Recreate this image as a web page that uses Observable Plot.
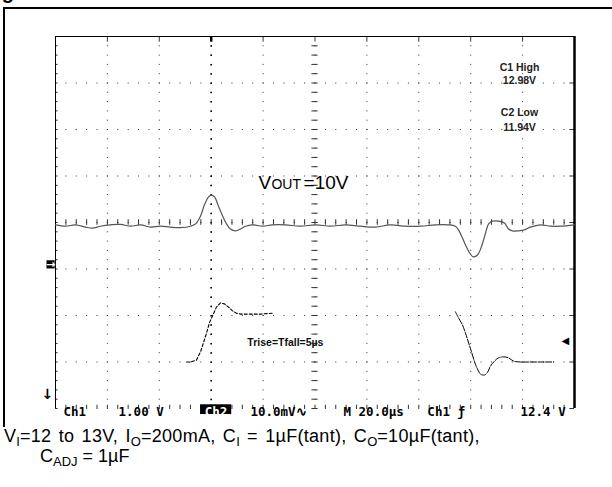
<!DOCTYPE html>
<html>
<head>
<meta charset="utf-8">
<script src="https://cdn.jsdelivr.net/npm/d3@7"></script>
<script src="https://cdn.jsdelivr.net/npm/@observablehq/plot@0.6"></script>
<style>
  body { margin: 0; background: #fff; }
  #wrap { position: relative; width: 612px; height: 487px; overflow: hidden; font-family: "Liberation Sans", Arial, sans-serif; }
  #fig { position: absolute; left: -16px; top: -18px; font-size: 20px; font-weight: bold; line-height: 20px; }
  #frame { position: absolute; left: 3px; top: 7px; width: 700px; height: 418px; border-top: 2.5px solid #000; border-left: 2.5px solid #000; }
  #chart { position: absolute; left: 0; top: 0; }
  #caption { position: absolute; left: 4px; top: 426px; font-size: 18px; line-height: 20px; color: #000; white-space: nowrap; letter-spacing: 0.3px; word-spacing: 2px; }
  #caption sub { font-size: 13px; vertical-align: -4px; line-height: 0; letter-spacing: 0; }
  #caption .l2 { padding-left: 36px; word-spacing: 0; letter-spacing: 0; }
</style>
</head>
<body>
<div id="wrap">
  <div id="fig">Figure</div>
  <div id="frame"></div>
  <div id="chart"></div>
  <div id="caption">V<sub>I</sub>=12 to 13V, I<sub>O</sub>=200mA, C<sub>I</sub> = 1µF(tant), C<sub>O</sub>=10µF(tant),<br><span class="l2">C<sub>ADJ</sub> = 1µF</span></div>
</div>
<script>
// Screen: 10 horizontal divisions of 20 µs, 8 vertical divisions
const timeTicks = [0, 20, 40, 60, 80, 100, 120, 140, 160, 180, 200];
const divTicks = [-4, -3, -2, -1, 0, 1, 2, 3, 4];
const minorTime = d3.range(0, 200.001, 4);     // 5 minor steps per division
const minorDiv = d3.range(-4, 4.001, 0.2);

// Channel settings
const CH1_CENTER_V = 15;   // Ch1: 1.00 V/div, screen centre = 15 V
const CH2_MV_PER_DIV = 10; // Ch2: 10.0 mV/div, AC coupled

// Ch2: output ripple (mV deviation from 10 V)
const ch2Time = [0, 4, 7.7, 11.6, 14.3, 17.3, 21.2, 25, 28.9, 32.8, 36.6, 40.5, 44.3, 48.2, 52,
  54, 55.9, 57.4, 59, 60.1, 61.3, 62.8, 64.4, 65.9, 67.4, 69.4, 71.3, 73.2, 75.9, 79.8,
  83.6, 88.6, 94.4, 100.2, 106, 111.8, 117.5, 123.3, 129.1, 134.9, 140.7, 146.4, 151.4, 154.1, 155.3,
  156.8, 158.4, 159.9, 161, 162.6, 164.2, 165.7, 166.9, 168.4, 170.7, 173, 174.6, 176.1, 178.4, 180.7,
  183, 186.9, 190.7, 194.6, 200];
const ch2mV = [-0.5, -0.8, -0.5, -1.0, -1.2, -0.8, -0.5, -0.4, -0.8, -0.5, -1.0, -0.8, -1.0, -1.1, -0.8,
  -0.3, 1.4, 3.8, 5.5, 5.9, 5.5, 3.5, 1.4, -0.3, -1.4, -1.8, -1.4, -0.8, -0.5, -0.8,
  -0.5, -0.5, -0.8, -0.5, -0.8, -0.5, -0.8, -1.0, -0.5, -0.8, -0.8, -0.5, -0.5, -0.8, -1.6,
  -3.3, -5.3, -6.8, -7.4, -7.0, -5.1, -2.3, -0.3, 0.3, 0.3, -0.1, -1.4, -1.8, -1.8, -1.6,
  -1.0, -0.5, -0.8, -0.8, -0.5];

// Ch1: input step 12 V -> 13 V (rising edge) and 13 V -> 12 V (falling edge)
const ch1RiseTime = [50.5, 52, 54.3, 55.9, 57, 58.2, 59.3, 60.5, 62, 63.6, 65.1, 66.7, 68.2, 69.7, 71.3, 75.1, 79, 83.6];
const ch1RiseV = [12.0, 12.0, 12.04, 12.22, 12.41, 12.62, 12.84, 12.99, 13.18, 13.27, 13.25, 13.18, 13.10, 13.05, 13.03, 13.03, 13.03, 13.05];
const ch1FallTime = [154.1, 155.3, 156.8, 158, 159.2, 160.3, 161.5, 162.6, 163.8, 165.3, 166.5, 167.6, 169.2, 170.7, 172.6, 174.6, 176.5, 179.2, 182.3, 186.9, 191.9];
const ch1FallV = [13.08, 12.95, 12.8, 12.62, 12.41, 12.22, 12.0, 11.85, 11.74, 11.72, 11.78, 11.91, 12.02, 12.09, 12.11, 12.09, 12.02, 12.0, 12.0, 12.0, 12.0];

// Measurement readouts (upper right)
const measureText = ["C1 High", "12.98V", "C2 Low", "11.94V"];
const measureDiv = [3.32, 3.05, 2.36, 2.04];
const measureTime = 178.8;

// Bottom status line
const statusText = ["Ch1", "1.00 V", "Ch2", "10.0mV\u223F", "M 20.0µs", "Ch1 \u0192", "12.4 V"];
const statusTime = [3.1, 24.3, 57.5, 75.1, 111, 143.3, 179.2];
const statusInverted = [false, false, true, false, false, false, false];

const triggerTime = 60;       // trigger position marker
const triggerLevelV = 12.4;   // Ch1 trigger level
const ch2GroundDiv = -0.9;    // Ch2 reference marker
const ch1OffscreenDiv = -3.7; // Ch1 ground is below the screen

const ch2 = ch2Time.map((t, i) => ({t, d: ch2mV[i] / CH2_MV_PER_DIV}));
const ch1Rise = ch1RiseTime.map((t, i) => ({t, d: ch1RiseV[i] - CH1_CENTER_V}));
const ch1Fall = ch1FallTime.map((t, i) => ({t, d: ch1FallV[i] - CH1_CENTER_V}));
const status = statusText.map((s, i) => ({s, t: statusTime[i], inv: statusInverted[i]}));
const measures = measureText.map((s, i) => ({s, d: measureDiv[i]}));

const gridColor = "#333";
const sans = "Liberation Sans, Arial, sans-serif";
const monoFont = "DejaVu Sans Mono, monospace";

const plot = Plot.plot({
  width: 612,
  height: 420,
  marginLeft: 55,
  marginRight: 38,
  marginTop: 36,
  marginBottom: 12,
  x: {domain: [0, 200], axis: null},
  y: {domain: [-4, 4], axis: null},
  style: {background: "transparent", overflow: "visible"},
  marks: [
    // dotted graticule
    Plot.ruleX(timeTicks.slice(1, -1), {stroke: gridColor, strokeDasharray: "1 8.3", strokeWidth: 1}),
    Plot.ruleY(divTicks.slice(0, -1), {stroke: gridColor, strokeDasharray: "1 9.38", strokeWidth: 1}),
    Plot.ruleX([triggerTime], {stroke: "#000", strokeDasharray: "1.5 7.8", strokeWidth: 1.6}),
    // centre axes with minor ticks
    Plot.ruleY(minorDiv, {x1: 100 - 1.2, x2: 100 + 1.2, stroke: gridColor}),
    Plot.ruleX(minorTime, {y1: -0.06, y2: 0.06, stroke: gridColor}),
    // edge ticks
    Plot.ruleY(minorDiv, {x1: 0, x2: 1, stroke: gridColor}),
    Plot.ruleX(minorTime, {y1: -4, y2: -3.93, stroke: gridColor}),
    Plot.ruleX(timeTicks, {y1: 4, y2: 3.88, stroke: gridColor}),
    Plot.ruleY(divTicks, {x1: 198.2, x2: 200, stroke: gridColor}),
    Plot.ruleX([triggerTime], {y1: 4, y2: 3.88, stroke: "#000", strokeWidth: 2.5}),
    // screen border
    Plot.ruleY([4], {stroke: "#000", strokeWidth: 1}),
    Plot.ruleX([0], {stroke: "#000", strokeWidth: 1}),
    Plot.ruleX([200], {y1: -4, y2: 4, stroke: "#000", strokeWidth: 2.5}),
    // Ch2 output trace
    Plot.line(ch2, {x: "t", y: "d", stroke: "#555", strokeWidth: 1.2, curve: "catmull-rom"}),
    // Ch1 input trace
    Plot.line(ch1Rise, {x: "t", y: "d", stroke: "#000", strokeWidth: 1.1, strokeDasharray: "3 2"}),
    Plot.line(ch1Fall, {x: "t", y: "d", stroke: "#000", strokeWidth: 1, strokeDasharray: "6 1.5", curve: "catmull-rom"}),
    // markers
    Plot.dot([ch2GroundDiv], {x: () => -1.9, y: d => d, symbol: "square", r: 4.6, fill: "#000", stroke: null}),
    Plot.text([ch2GroundDiv], {x: () => -1.9, y: d => d, text: () => "\u2192", fill: "#fff", fontSize: 11, fontWeight: "bold", fontFamily: "DejaVu Sans"}),
    Plot.text([ch1OffscreenDiv], {x: () => -3.1, y: d => d, text: () => "\u2193", fill: "#000", fontSize: 14, fontWeight: "bold", fontFamily: "DejaVu Sans"}),
    Plot.text([triggerLevelV - CH1_CENTER_V], {x: () => 196.5, y: d => d, dy: -3, text: () => "\u25C0", fill: "#000", fontSize: 10, fontFamily: "DejaVu Sans"}),
    // labels on the screen
    Plot.text(measures, {x: () => measureTime, y: "d", text: "s", fontFamily: sans, fontSize: 10.5, fontWeight: "bold", fill: "#222", style: "letter-spacing:0.9px"}),
    Plot.text(["V"], {x: () => 78.2, y: () => 0.72, text: d => d, textAnchor: "start", lineAnchor: "bottom", fontSize: 19, fontFamily: sans}),
    Plot.text(["OUT"], {x: () => 83.2, y: () => 0.72, text: d => d, textAnchor: "start", lineAnchor: "bottom", fontSize: 14, fontFamily: sans, style: "letter-spacing:1.2px"}),
    Plot.text(["=10V"], {x: () => 95.6, y: () => 0.72, text: d => d, textAnchor: "start", lineAnchor: "bottom", fontSize: 19, fontFamily: sans}),
    Plot.text(["Trise=Tfall=5µs"], {x: () => 88.6, y: () => -2.59, text: d => d, fontSize: 10.5, fontWeight: "bold", fontFamily: sans, fill: "#111", style: "letter-spacing:0.5px"}),
    // status line under the screen
    Plot.rect(status.filter(d => d.inv), {x1: d => d.t - 1.6, x2: d => d.t + 10.4, y1: -3.92, y2: -4.13, fill: "#000"}),
    Plot.text(status, {x: "t", y: () => -4, dy: 3, text: "s", textAnchor: "start", fill: d => d.inv ? "#fff" : "#000", fontFamily: monoFont, fontSize: 12.5, fontWeight: "bold", style: "letter-spacing:0.6px"})
  ]
});
document.getElementById("chart").appendChild(plot);
</script>
</body>
</html>
